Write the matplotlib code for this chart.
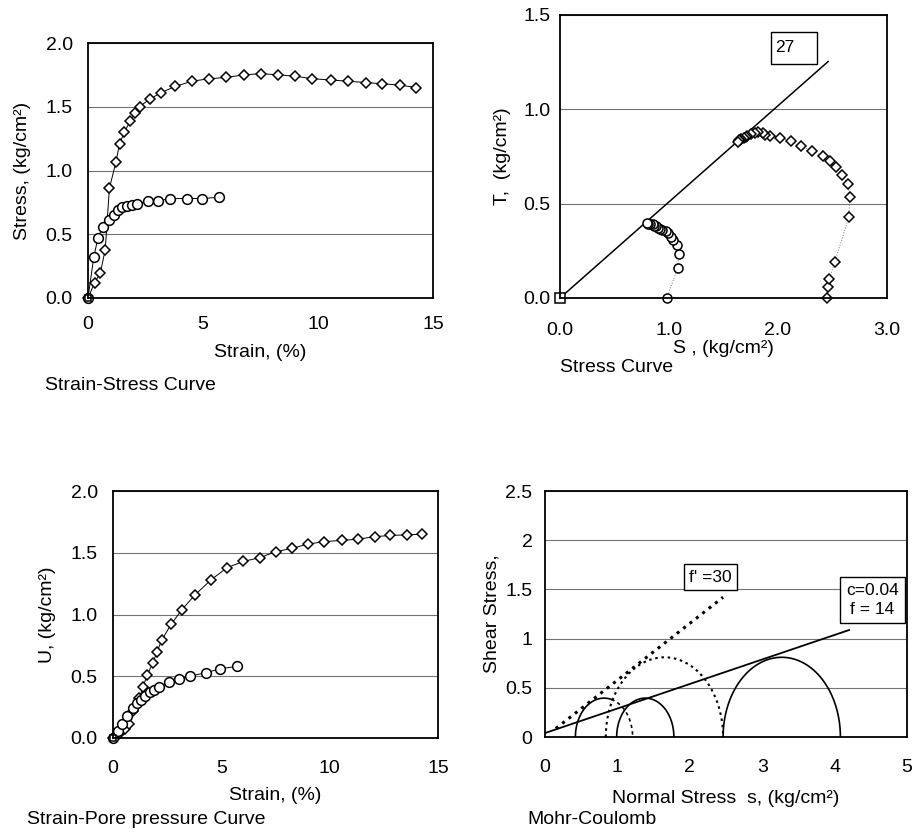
import numpy as np
import matplotlib
matplotlib.use("Agg")
import matplotlib.pyplot as plt
from matplotlib.patches import Rectangle
from matplotlib.ticker import FormatStrFormatter

plt.rcParams['font.family'] = ['Liberation Sans', 'DejaVu Sans']
plt.rcParams['font.size'] = 14

# --- sample 2 (diamonds): strain, deviator stress, pore pressure
strain_d = [0, 0.29, 0.54, 0.75, 0.93, 1.22, 1.37, 1.58, 1.84, 2.04, 2.24, 2.68, 3.18, 3.79,
            4.52, 5.27, 6.02, 6.77, 7.54, 8.26, 8.99, 9.75, 10.55, 11.32, 12.07, 12.79, 13.55, 14.28]
stress_d = [0, 0.12, 0.20, 0.38, 0.86, 1.07, 1.21, 1.30, 1.39, 1.45, 1.50, 1.56, 1.61, 1.66,
            1.70, 1.72, 1.73, 1.75, 1.76, 1.75, 1.74, 1.72, 1.71, 1.70, 1.69, 1.68, 1.67, 1.65]
pore_d = [0, 0.035, 0.07, 0.11, 0.22, 0.32, 0.41, 0.51, 0.61, 0.70, 0.79, 0.92, 1.04, 1.16,
          1.28, 1.38, 1.43, 1.46, 1.51, 1.535, 1.57, 1.59, 1.60, 1.61, 1.63, 1.64, 1.645, 1.65]

# --- sample 1 (circles)
strain_c = [0, 0.25, 0.43, 0.64, 0.90, 1.11, 1.29, 1.48, 1.69, 1.91, 2.13, 2.60, 3.04, 3.55,
            4.30, 4.95, 5.70]
stress_c = [0, 0.32, 0.47, 0.56, 0.61, 0.65, 0.69, 0.71, 0.72, 0.73, 0.74, 0.76, 0.76, 0.78,
            0.78, 0.78, 0.79]
pore_c = [0, 0.06, 0.11, 0.18, 0.24, 0.28, 0.31, 0.34, 0.37, 0.39, 0.41, 0.45, 0.48, 0.50,
          0.53, 0.56, 0.58]

# --- stress paths (s, t)
path_s_c = [0.98, 1.08, 1.09, 1.07, 1.04, 1.02, 0.99, 0.97, 0.94, 0.92, 0.90, 0.88, 0.86,
            0.85, 0.83, 0.81, 0.80]
path_t_c = [0, 0.16, 0.235, 0.28, 0.305, 0.325, 0.345, 0.355, 0.36, 0.365, 0.37, 0.38, 0.38,
            0.39, 0.39, 0.39, 0.395]
path_s_d = [2.45, 2.46, 2.47, 2.52, 2.65, 2.66, 2.64, 2.59, 2.535, 2.475, 2.41, 2.31, 2.215,
            2.12, 2.02, 1.93, 1.885, 1.865, 1.82, 1.79, 1.75, 1.72, 1.705, 1.69, 1.665, 1.65,
            1.645, 1.635]
path_t_d = [0, 0.06, 0.10, 0.19, 0.43, 0.535, 0.605, 0.65, 0.695, 0.725, 0.75, 0.78, 0.805,
            0.83, 0.85, 0.86, 0.865, 0.875, 0.88, 0.875, 0.87, 0.86, 0.855, 0.85, 0.845, 0.84,
            0.835, 0.825]
kf_angle = 27
kf_end = 2.46

# --- Mohr circles
sig3_tot = [0.99, 2.46]
sig1_tot = [1.78, 4.08]
sig3_eff = [0.42, 0.84]
sig1_eff = [1.21, 2.46]
c_tot, phi_tot, env_end = 0.04, 14, 4.2
phi_eff, eff_start, eff_end = 30, 0.15, 2.46

mk_d = dict(marker='D', ms=5, mfc='white', mec='black', mew=1.1, clip_on=False)
mk_c = dict(marker='o', ms=7, mfc='white', mec='black', mew=1.1, clip_on=False)
mk_s = dict(marker='s', ms=6, mfc='white', mec='black', mew=1.1, clip_on=False)


def style_ax(ax, xticks, yticks, xfmt, yfmt, xpad, ypad):
    ax.set_xticks(xticks)
    ax.set_yticks(yticks)
    ax.set_xlim(xticks[0], xticks[-1])
    ax.set_ylim(yticks[0], yticks[-1])
    ax.xaxis.set_major_formatter(FormatStrFormatter(xfmt))
    ax.yaxis.set_major_formatter(FormatStrFormatter(yfmt))
    ax.tick_params(length=0)
    ax.tick_params(axis='x', pad=xpad)
    ax.tick_params(axis='y', pad=ypad)
    ax.yaxis.grid(True, color='0.45', lw=0.8)
    ax.set_axisbelow(True)
    for sp in ax.spines.values():
        sp.set_linewidth(1.3)


def half_circle(ax, s3, s1, a0, a1, **kw):
    cen = (s1 + s3) / 2
    r = (s1 - s3) / 2
    th = np.radians(np.linspace(a0, a1, 80))
    ax.plot(cen + r * np.cos(th), r * np.sin(th), **kw)


fig = plt.figure(figsize=(9.19, 8.39), dpi=100)
W, H = 919, 839


def add_ax(left, top, right, bottom):
    return fig.add_axes([left / W, 1 - bottom / H, (right - left) / W, (bottom - top) / H])


# 1) strain - stress
ax1 = add_ax(88, 43, 433, 298)
style_ax(ax1, [0, 5, 10, 15], [0, 0.5, 1.0, 1.5, 2.0], '%g', '%.1f', 13, 11)
ax1.plot(strain_d, stress_d, color='black', lw=0.7, **mk_d)
ax1.plot(strain_c, stress_c, color='black', lw=0.7, **mk_c)
ax1.plot([0], [0], ls='none', **dict(mk_s, ms=5))
ax1.set_xlabel('Strain, (%)')
ax1.xaxis.set_label_coords(0.5, -0.18)
ax1.set_ylabel('Stress, (kg/cm²)')
ax1.yaxis.set_label_coords(-0.165, 0.5)

# 2) stress path
ax2 = add_ax(560, 15, 887, 298)
style_ax(ax2, [0, 1.0, 2.0, 3.0], [0, 0.5, 1.0, 1.5], '%.1f', '%.1f', 17, 7)
kx = np.array([0, kf_end])
ax2.plot(kx, np.tan(np.radians(kf_angle)) * kx, color='black', lw=1.1)
ax2.plot(path_s_c, path_t_c, color='0.5', lw=0.7, ls=':', **dict(mk_c, ms=6.5))
ax2.plot(path_s_d, path_t_d, color='0.5', lw=0.7, ls=':', **dict(mk_d, ms=4.6))
ax2.plot([0], [0], ls='none', **dict(mk_s, ms=7))
ax2.add_patch(Rectangle((1.94, 1.24), 0.42, 0.17, fill=False, ec='black', lw=1.0))
ax2.text(1.97, 1.33, '27', fontsize=12.5, va='center', ha='left')
ax2.set_xlabel('S , (kg/cm²)')
ax2.xaxis.set_label_coords(0.5, -0.15)
ax2.set_ylabel('T,  (kg/cm²)')
ax2.yaxis.set_label_coords(-0.15, 0.5)

# 3) strain - pore pressure
ax3 = add_ax(113, 491, 438, 738)
style_ax(ax3, [0, 5, 10, 15], [0, 0.5, 1.0, 1.5, 2.0], '%g', '%.1f', 16, 11)
ax3.plot(strain_d, pore_d, color='black', lw=0.7, **mk_d)
ax3.plot(strain_c, pore_c, color='black', lw=0.7, **mk_c)
ax3.plot([0], [0], ls='none', **dict(mk_s, ms=5))
ax3.set_xlabel('Strain, (%)')
ax3.xaxis.set_label_coords(0.5, -0.2)
ax3.set_ylabel('U, (kg/cm²)')
ax3.yaxis.set_label_coords(-0.175, 0.5)

# 4) Mohr-Coulomb
ax4 = add_ax(545, 491, 907, 737)
style_ax(ax4, [0, 1, 2, 3, 4, 5], [0, 0.5, 1, 1.5, 2, 2.5], '%g', '%g', 16, 9)
for s3, s1 in zip(sig3_tot, sig1_tot):
    half_circle(ax4, s3, s1, 0, 180, color='black', lw=1.2)
half_circle(ax4, sig3_eff[0], sig1_eff[0], 180, 75, color='black', lw=1.2)
half_circle(ax4, sig3_eff[0], sig1_eff[0], 75, 0, color='black', lw=1.2, ls=(0, (2, 2)))
half_circle(ax4, sig3_eff[1], sig1_eff[1], 180, 0, color='black', lw=1.5, ls=(0, (1.2, 1.8)))
ex = np.array([0, env_end])
ax4.plot(ex, c_tot + np.tan(np.radians(phi_tot)) * ex, color='black', lw=1.3)
fx = np.array([eff_start, eff_end])
ax4.plot(fx, np.tan(np.radians(phi_eff)) * fx, color='black', lw=2.2, ls=':')
ax4.text(2.28, 1.625, "f' =30", fontsize=12.5, ha='center', va='center',
         bbox=dict(boxstyle='square,pad=0.3', fc='white', ec='black', lw=1.0))
ax4.text(4.52, 1.39, 'c=0.04\nf = 14', fontsize=12.5, ha='center', va='center',
         linespacing=1.35,
         bbox=dict(boxstyle='square,pad=0.35', fc='white', ec='black', lw=1.0))
ax4.set_xlabel('Normal Stress  s, (kg/cm²)')
ax4.xaxis.set_label_coords(0.5, -0.215)
ax4.set_ylabel('Shear Stress,')
ax4.yaxis.set_label_coords(-0.122, 0.5)

# captions under the panels
fig.text(45 / W, 1 - 385 / H, 'Strain-Stress Curve', va='center', ha='left')
fig.text(560 / W, 1 - 367 / H, 'Stress Curve', va='center', ha='left')
fig.text(27 / W, 1 - 820 / H, 'Strain-Pore pressure Curve', va='center', ha='left')
fig.text(527 / W, 1 - 820 / H, 'Mohr-Coulomb', va='center', ha='left')

fig.savefig('out.png', dpi=100)
